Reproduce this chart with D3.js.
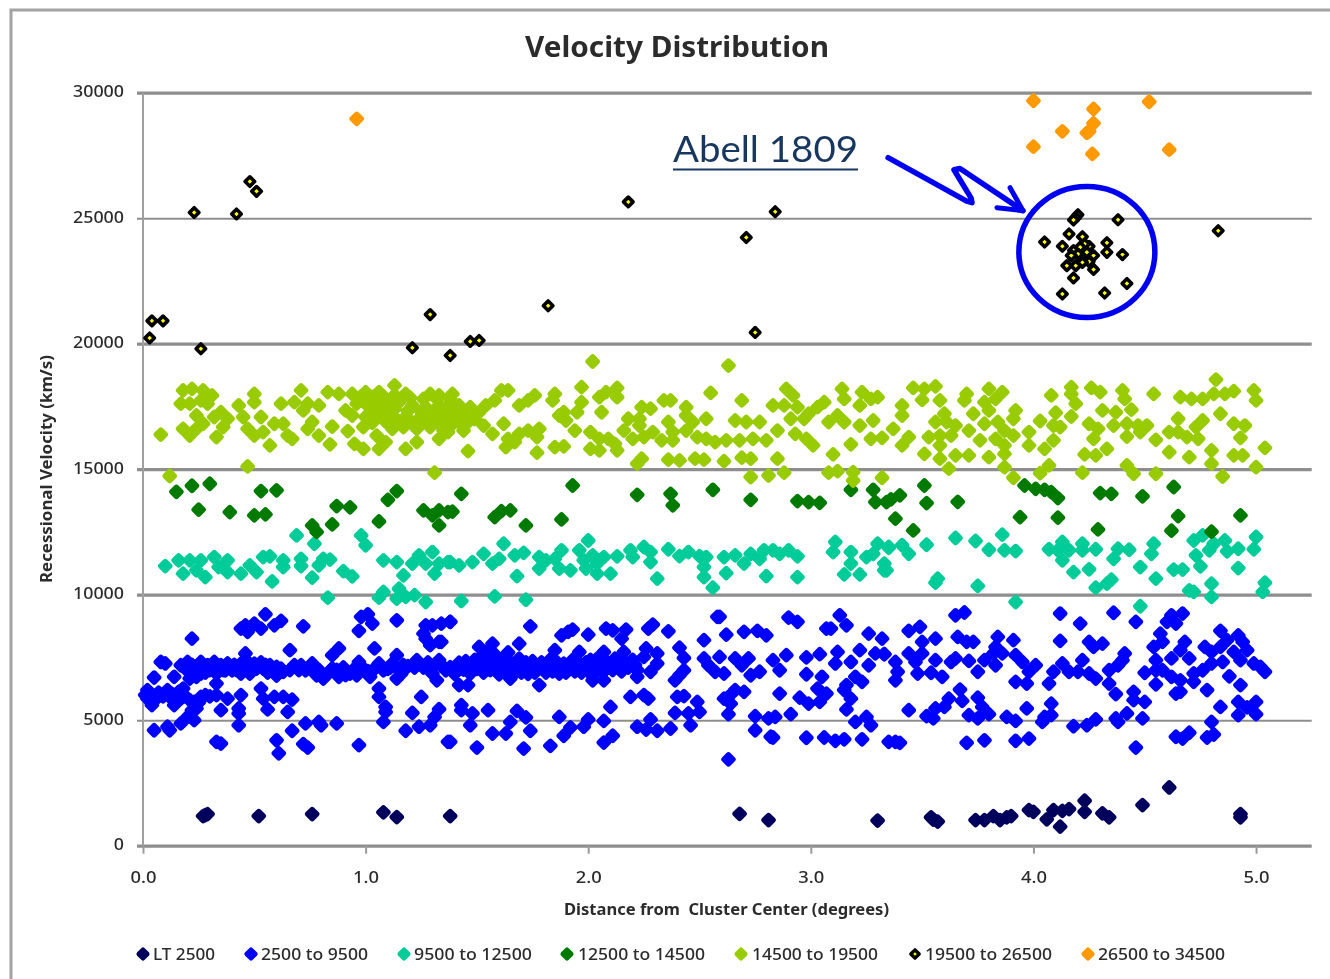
<!DOCTYPE html>
<html>
<head>
<meta charset="utf-8">
<script src="https://cdn.jsdelivr.net/npm/d3@7"></script>
<style>
  html, body { margin: 0; padding: 0; background: #fff; }
  svg { display: block; filter: blur(0.35px); }
  text { font-family: "Noto Sans", "Open Sans", sans-serif; fill: #2b2b2b; white-space: pre; }
</style>
</head>
<body>
<script>
// values: [degrees, km/s]
const lt2500 = [[.27,1180],[.29,1260],[.28,1220],[.52,1180],[.76,1260],[1.08,1330],[1.14,1140],[1.38,1180],[2.68,1270],[2.81,1020],[3.30,1000],
  [3.54,1130],[3.55,1040],[3.57,960],[3.74,1020],[3.78,1020],[3.82,1180],[3.85,1020],[3.88,1130],[3.90,1180],[3.98,1420],[4.00,1350],[4.06,1050],[4.09,1420],
  [4.12,760],[4.13,1390],[4.16,1460],[4.23,1790],[4.23,1350],[4.31,1290],[4.34,1130],[4.49,1620],[4.61,2320],[4.93,1260],[4.93,1130]];

const v2500to9500 = [[.01,6000],[.02,6200],[.02,5860],[.04,5600],[.06,5860],[.11,6200],[.12,5930],[.14,5600],[.16,6130],[.17,5860],[.18,6260],
  [.05,6700],[.08,7320],[.10,7260],[.14,6730],[.17,7190],[.19,7060],[.21,6660],[.24,6730],[.26,7320],[.26,6860],[.29,7190],[.32,7320],[.33,6860],[.35,7190],
  [.38,7260],[.40,6990],[.44,6860],[.46,7660],[.47,7320],[.48,6860],[.51,7060],[.54,7060],[.57,7190],[.60,7120],[.63,6930],[.68,7190],[.71,7190],[.73,6990],
  [.76,7260],[.78,6790],[.81,6660],[.85,7590],[.85,7060],[.88,7860],[.88,6730],[.93,6860],[.97,7320],[.96,6790],[.99,6990],[1.02,6730],[1.06,7260],[1.08,6990],
  [1.12,7260],[1.14,7590],[1.14,6660],[1.17,7190],[1.23,7390],[1.30,6860],[1.32,6590],[1.33,7390],[1.36,6990],
  [.20,7320],[.23,7050],[.27,7000],[.30,7000],[.34,7000],[.37,6990],[.41,7200],[.44,7250],[.50,7250],[.53,7300],[.56,6900],[.60,6780],[.90,7100],[1.10,7050],[1.15,7000],[1.26,7100],[1.31,7200],
  [.22,7200],[.25,7050],[.28,6900],[.31,7150],[.36,7000],[.39,7100],[.42,7000],[.45,7050],[.49,7100],[.52,7200],[.55,7200],[.58,7000],[.62,7050],[.66,7000],[.70,7000],[.75,7050],
  [.79,7000],[.83,6850],[.87,7000],[.91,6800],[.95,7050],[.98,7150],[1.01,6950],[1.04,7050],[1.11,7100],[1.16,6850],[1.19,7150],[1.22,7100],[1.28,7300],[1.34,7200],
  [.03,6050],[.07,6100],[.09,5950],[.13,6050],[.15,5800],[.19,5950],[.21,5800],[.25,5700],[.22,5400],[.28,6000],[.30,5950],
  [.22,8250],[.33,6460],[.33,6000],[.38,5860],[.44,6000],[.26,5930],[.23,5730],[.24,5470],[.20,5130],[.23,5000],[.17,4870],[.05,4600],[.11,4740],[.12,4600],
  [.35,5400],[.43,5470],[.43,5270],[.43,4800],[.33,4140],[.35,4070],[.56,5430],[.53,6260],[.54,5860],[.59,5930],[.63,5930],[.67,5820],[.65,5330],[.67,4580],
  [.60,4200],[.61,3680],[.72,4050],[.74,3910],[.73,4870],[.79,4930],[.80,4800],[.87,4870],[.97,4010],[1.08,4930],[1.09,5330],[1.09,5530],[1.06,6260],[1.06,5930],
  [1.21,5290],[1.25,5930],[1.18,4580],[1.24,4740],[1.29,4800],[1.31,5130],[1.33,5440],[1.37,4140],
  [.55,9220],[.62,8960],[.59,8780],[.53,8650],[.46,8780],[.50,8850],[.47,8520],[.44,8650],[.72,8740],[.66,7790],[.97,8560],[.98,9120],[1.01,9220],[1.03,8850],
  [1.04,7860],[1.14,8980],[1.27,8780],[1.26,8450],[1.30,8780],[1.34,8850],[1.38,8920],[1.29,7990],[1.33,8120],[1.27,8250],
  [1.38,7110],[1.40,6850],[1.42,7290],[1.44,7020],[1.46,7180],[1.47,6860],[1.49,7400],[1.50,7050],[1.52,7530],[1.53,6900],[1.55,7260],[1.56,7000],[1.58,7620],
  [1.59,7150],[1.60,6830],[1.62,7400],[1.63,7030],[1.65,7300],[1.67,6900],[1.69,7450],[1.71,7100],[1.73,6850],[1.75,7350],[1.77,7000],[1.79,7300],[1.81,6900],
  [1.83,7420],[1.85,7100],[1.87,6860],[1.89,7250],[1.91,7000],[1.93,7400],[1.95,7100],[1.97,6900],[1.99,7300],[2.02,7150],[2.04,7450],[2.06,7000],[2.08,7350],
  [2.10,7100],[2.12,7450],[2.14,7050],[2.16,7350],[2.18,7100],[2.20,7400],[2.22,7000],
  [1.41,7100],[1.45,7350],[1.48,7100],[1.51,7250],[1.54,7050],[1.57,7350],[1.60,7400],[1.61,7100],[1.64,6950],[1.66,7150],[1.68,7200],[1.70,6900],[1.72,7300],[1.74,7100],
  [1.76,6900],[1.78,7150],[1.80,7100],[1.82,7200],[1.84,6950],[1.86,7300],[1.88,7050],[1.90,6900],[1.92,7200],[1.94,6950],[1.96,7250],[1.98,7100],[2.00,6950],[2.01,7400],
  [2.03,6900],[2.05,7200],[2.07,6950],[2.09,7200],[2.11,7000],[2.13,7250],[2.15,6950],[2.17,7150],[2.19,7300],[2.21,7200],
  [1.51,7920],[1.57,8050],[1.69,8050],[1.85,7790],[1.96,7720],[2.07,7720],[2.16,7720],[2.26,7860],[1.54,7700],[1.64,7700],[1.42,6400],[1.46,6400],[1.78,6400],[1.65,6660],[2.02,6590],[2.07,6590],[2.22,6730],
  [1.38,8920],[1.34,8120],[1.74,8740],[1.88,8380],[1.91,8520],[1.93,8610],[2.00,8410],[2.08,8650],[2.11,8580],[2.17,8610],[2.15,8250],[2.27,8650],[2.29,8810],[2.36,8540],
  [2.41,7890],[2.43,7480],[2.31,7660],[2.31,7260],[2.28,6930],[2.25,7520],[2.43,6990],[2.41,6790],[2.39,6590],
  [1.43,5600],[1.43,5400],[1.48,5270],[1.55,5400],[1.47,4800],[1.38,4140],[1.50,3910],[1.57,4470],[1.63,4470],[1.65,4930],[1.68,5370],[1.72,5110],[1.74,4580],[1.71,3870],
  [1.83,3980],[1.87,5130],[1.89,4380],[1.92,4710],[1.98,4740],[2.00,5030],[2.07,4970],[2.07,4110],[2.11,4380],[2.10,5530],[2.19,5930],[2.25,6000],[2.27,5860],[2.22,4740],
  [2.28,5030],[2.26,4630],[2.31,4580],[2.37,4670],[2.39,5290],[2.40,5930],[2.43,5960],[2.45,5270],[2.46,4800],[2.49,5730],[2.50,5330],
  [2.52,8190],[2.59,9120],[2.58,9120],[2.62,8410],[2.70,8520],[2.76,8560],[2.80,8380],[2.90,9090],[2.94,8920],
  [2.52,7460],[2.54,7190],[2.57,6930],[2.61,6860],[2.59,7520],[2.66,7460],[2.72,7460],[2.69,7190],[2.73,6790],[2.77,6930],[2.83,7390],[2.86,6990],[2.89,7590],[2.98,7500],
  [3.04,7630],[2.98,6830],[3.05,6730],[3.12,7720],[3.11,7260],[3.18,7320],[3.22,7790],[3.20,6730],[3.16,6400],[3.23,6530],[3.26,7190],[3.29,7660],[3.33,7630],
  [3.13,9180],[3.16,8780],[3.09,8650],[3.07,8650],[3.26,8450],[3.32,8250],[3.15,6200],[3.18,5860],
  [2.66,6200],[2.70,6130],[2.63,5930],[2.61,5860],[2.64,5660],[2.63,5240],[2.86,6060],[2.95,5900],[2.99,5660],[3.03,6260],[3.07,6060],[3.04,5730],[3.16,5430],[3.20,4930],[3.25,5130],[3.27,4800],
  [2.75,5160],[2.75,4600],[2.81,5070],[2.84,5130],[2.91,5240],[2.82,4340],[2.83,4310],[2.98,4300],[3.06,4310],[3.11,4180],[3.15,4240],[3.23,4240],[3.35,4140],[2.63,3440],
  [3.38,4140],[3.40,4100],[3.44,5400],[3.52,5160],[3.55,5070],[3.56,5470],[3.62,5860],[3.60,5530],[3.67,6220],[3.68,5770],[3.71,5200],[3.75,5070],[3.75,5900],[3.77,5530],
  [3.80,5240],[3.88,5130],[3.92,4970],[3.97,5470],[3.92,4180],[3.98,4270],[3.70,4100],[3.78,4200],
  [3.44,8560],[3.49,8720],[3.50,8120],[3.56,8250],[3.65,9180],[3.69,9290],[3.66,8320],[3.70,8120],[3.73,8120],[3.84,8320],[3.91,8190],
  [3.33,7630],[3.38,7320],[3.44,7660],[3.39,6930],[3.38,6590],[3.47,7320],[3.48,6860],[3.54,6890],[3.50,7660],[3.56,7390],[3.59,6730],[3.63,7320],[3.65,7460],[3.71,7360],
  [3.75,6930],[3.78,7390],[3.82,7660],[3.83,7920],[3.83,7190],[3.86,7660],[3.92,7590],[3.95,7320],[3.98,6930],[4.01,7190],[3.92,6530],[3.97,6460],
  [4.07,6460],[4.09,6930],[4.13,7260],[4.16,6930],[4.22,7390],[4.20,6930],[4.25,6860],[4.28,6660],
  [4.12,9250],[4.21,8850],[4.36,9280],[4.12,8160],[4.25,8120],[4.27,7920],[4.31,8050],[4.46,8920],[4.41,7660],[4.40,7390],[4.38,7190],[4.34,6990],[4.34,6460],[4.37,6040],
  [4.08,5660],[4.05,5130],[4.04,4930],[4.08,5200],[4.18,4760],[4.24,4800],[4.28,5030],[4.37,5070],[4.38,4930],[4.42,5270],[4.49,5070],[4.46,3910],[4.45,6130],[4.45,5800],[4.50,5730],
  [4.62,9180],[4.67,9250],[4.60,8920],[4.64,8850],[4.57,8450],[4.58,8120],[4.54,7920],[4.68,8120],[4.66,7790],[4.70,7460],[4.50,6890],[4.55,7390],[4.62,7460],[4.55,6990],
  [4.58,6990],[4.55,6430],[4.62,6730],[4.66,6590],[4.72,6860],[4.72,6530],[4.76,6990],[4.64,6060],[4.66,6130],[4.78,6200],
  [4.84,8560],[4.84,7920],[4.77,7920],[4.80,7720],[4.80,7260],[4.87,8190],[4.92,8380],[4.94,8120],[4.96,7790],[4.90,7720],[4.85,7320],[4.93,7390],[4.99,7260],[5.02,7120],
  [5.04,6930],[4.88,6750],[4.93,6400],[4.84,5530],[4.92,5730],[4.92,5200],[4.96,5510],[5.00,5730],[5.00,5240],[4.80,4930],[4.78,4310],[4.81,4430],[4.64,4340],[4.67,4270],[4.70,4500]];

const v9500to12500 = [[.10,11140],[.16,11370],[.21,11370],[.26,11370],[.18,10840],[.24,10970],[.28,10700],[.32,11500],[.38,11370],[.34,11100],[.38,10900],[.44,10840],
  [.48,11170],[.51,10900],[.54,11500],[.57,11530],[.63,11370],[.63,11100],[.71,11430],[.71,11140],[.76,10680],[.79,11170],[.81,11430],[.84,11400],[.90,10940],[.94,10730],
  [.58,10530],[.69,12360],[.77,12030],[.98,12360],[1.00,11970],[.83,9880],[1.06,9880],[1.08,10110],[1.14,9840],[1.15,10240],[1.18,9910],[1.22,9980],[1.27,9710],
  [1.08,11370],[1.14,11300],[1.17,10770],[1.21,11240],[1.24,11570],[1.30,11700],[1.27,11240],[1.31,10840],[1.33,11240],[1.37,11300],
  [1.38,11300],[1.42,11170],[1.48,11300],[1.53,11630],[1.57,11240],[1.60,11430],[1.62,12030],[1.67,11570],[1.71,11670],[1.68,10740],[1.43,9750],[1.58,9930],[1.72,9800],
  [1.78,11500],[1.78,11040],[1.81,11370],[1.85,11430],[1.88,11770],[1.87,11040],[1.92,10970],[2.00,12160],[1.96,11770],[1.98,11370],[2.02,11570],[2.07,11500],[1.99,11040],
  [2.04,10840],[2.10,10840],[2.04,11240],[2.13,11530],[2.19,11770],[2.20,11500],[2.25,11900],[2.28,11700],[2.28,11300],[2.31,10640],[2.36,11810],[2.41,11540],[2.45,11700],
  [2.50,11540],[2.53,11500],[2.52,11100],[2.52,10700],[2.56,10280],[2.62,10860],[2.61,11500],[2.66,11570],[2.70,11240],[2.73,11630],[2.77,11430],[2.79,11770],[2.83,11770],
  [2.86,11630],[2.90,11770],[2.94,11530],[2.80,10740],[2.94,10700],[3.11,12100],[3.10,11700],[3.18,11700],[3.18,11240],[3.15,10810],[3.22,10810],[3.25,11500],[3.30,12030],
  [3.28,11630],[3.33,11240],[3.35,11900],[3.34,10970],[3.33,10970],[3.35,11870],[3.41,11970],[3.44,11630],[3.52,11990],[3.65,12260],[3.74,12140],[3.86,12390],[3.80,11790],
  [3.87,11770],[3.92,11740],[3.57,10640],[3.56,10480],[3.75,10350],[3.92,9710],[4.07,11810],[4.13,12100],[4.11,11770],[4.16,11770],[4.13,11370],[4.22,12030],[4.22,11770],
  [4.28,11810],[4.18,10900],[4.25,11010],[4.35,10600],[4.33,10440],[4.28,10280],[4.38,11830],[4.36,11430],[4.43,11790],[4.54,12030],[4.53,11630],[4.48,11100],[4.55,10640],
  [4.63,11000],[4.67,11000],[4.73,11570],[4.75,11130],[4.72,12160],[4.76,12360],[4.79,11770],[4.81,12030],[4.86,12160],[4.87,11730],[4.92,11830],[4.92,11060],[5.00,12300],
  [4.99,11810],[4.80,10440],[4.70,10170],[4.72,10110],[4.80,9910],[5.04,10480],[5.03,10110],[4.48,9540]];

const v12500to14500 = [[.15,14100],[.22,14340],[.30,14420],[.25,13390],[.39,13290],[.50,13160],[.55,13200],[.53,14130],[.60,14160],[.76,12760],[.78,12500],[.85,12800],
  [.87,13530],[.93,13480],[1.06,12920],[1.10,13780],[1.14,14130],[1.26,13360],[1.30,13160],[1.33,12760],[1.33,13360],[1.37,13290],[1.39,13310],[1.43,14020],[1.58,13090],
  [1.61,13330],[1.65,13360],[1.72,12760],[1.88,13000],[1.93,14350],[2.22,13980],[2.37,14020],[2.38,13560],[2.56,14180],[2.73,13780],[2.94,13730],[2.99,13690],[3.04,13660],
  [3.18,14180],[3.28,14180],[3.29,13690],[3.34,13690],[3.36,13800],[3.40,13960],[3.51,14350],[3.52,13650],[3.66,13700],[3.38,13030],[3.46,12560],[3.94,13090],[4.11,13070],
  [3.96,14350],[4.01,14220],[4.05,14180],[4.08,14090],[4.11,13850],[4.30,14050],[4.35,14020],[4.49,13920],[4.63,14290],[4.29,12600],[4.62,12550],[4.65,13130],[4.93,13160],[4.80,12510]];

const v14500to19500 = [[.08,16380],[.12,14730],[.47,15110],[1.31,14860],[.18,18140],[.22,18200],[.27,18140],[.17,17610],[.21,17610],[.26,17740],[.31,17940],[.29,17610],[.35,17270],
  [.38,17010],[.36,16680],[.32,17080],[.27,16810],[.24,17140],[.18,16610],[.21,16340],[.24,16610],[.33,16280],[.43,17540],[.50,18000],[.50,17670],[.45,17080],[.47,16610],
  [.50,16340],[.53,17080],[.54,16480],[.59,16810],[.63,16810],[.65,16340],[.67,16210],[.57,15950],[.62,17610],[.68,17670],[.71,18140],[.72,17340],[.74,17610],[.79,17540],
  [.76,16880],[.74,16610],[.79,16340],[.85,16700],[.84,15990],[.92,16520],[.95,16010],[.99,15810],[.83,18070],[.88,18000],[.94,18000],[1.00,18070],[1.06,18070],[1.13,18340],
  [1.18,18000],[1.29,18000],[1.33,17940],[.91,17340],[.96,17610],[1.00,17610],[1.05,17540],[1.10,17610],[1.15,17670],[1.21,17540],[1.27,17470],[1.33,17540],[.94,17140],
  [1.00,17080],[1.06,17210],[1.12,17140],[1.18,17080],[1.24,17010],[1.30,17080],[1.36,17140],[.99,16680],[1.05,16340],[1.12,16610],[1.17,16680],[1.23,16610],[1.29,16680],
  [1.35,16540],[1.06,15810],[1.09,16080],[1.18,15810],[1.23,16080],[1.33,16210],
  [.98,17900],[1.03,17880],[1.08,17900],[1.13,17950],[1.20,17850],[1.26,17800],[1.32,17800],[1.38,17800],[1.03,17350],[1.08,17300],[1.13,17400],[1.19,17320],[1.25,17300],
  [1.31,17320],[1.37,17300],[1.03,16850],[1.09,16900],[1.15,16900],[1.21,16850],[1.27,16880],[1.33,16850],[1.39,16800],[1.44,17200],[1.49,17000],[1.40,17250],[1.43,16800],
  [2.02,19290],[2.63,19130],[1.39,18000],[1.37,17540],[1.42,17540],[1.47,17470],[1.51,17270],[1.35,17010],[1.41,16940],[1.46,16880],[1.37,16480],[1.44,16540],[1.54,17540],
  [1.58,17740],[1.61,18140],[1.64,18140],[1.53,16740],[1.57,16410],[1.69,17540],[1.73,17740],[1.76,17940],[1.62,16810],[1.69,16410],[1.64,16210],[1.63,15880],[1.67,16080],
  [1.73,16540],[1.78,16610],[1.77,16280],[1.46,15720],[1.77,15660],[1.85,18000],[1.84,17740],[1.89,17270],[1.87,17140],[1.90,16940],[1.97,17670],[1.95,17270],[1.94,16540],
  [1.97,18270],[1.85,15880],[1.89,15910],[2.08,18070],[2.13,18240],[2.05,17870],[2.13,17870],[2.06,17270],[2.01,16480],[2.05,16210],[2.09,16210],[2.12,16010],[2.13,15750],
  [2.01,15810],[2.05,15750],[2.24,17470],[2.28,17410],[2.18,17010],[2.23,17010],[2.16,16540],[2.23,16740],[2.20,16210],[2.25,16280],[2.29,16480],[2.33,16150],[2.34,17740],
  [2.37,17740],[2.36,16880],[2.38,16480],[2.38,16150],[2.44,17470],[2.44,17140],[2.47,16880],[2.44,16540],[2.49,16280],[2.53,16210],[2.57,16080],[2.62,16150],[2.53,17010],
  [2.55,18040],[2.69,17740],[2.66,16940],[2.71,16880],[2.77,16880],[2.68,16150],[2.74,16210],[2.80,16150],[2.85,16540],[2.83,17540],[2.89,18200],[2.92,17940],[2.88,17540],
  [2.94,17470],[2.91,17010],[2.97,17010],[2.93,16410],[2.98,16210],[3.01,15950],[3.03,17470],[3.06,17670],[2.99,17210],[3.14,18200],[3.15,17800],[3.23,18070],[3.30,17870],
  [3.27,17800],[3.22,17540],[3.08,16880],[3.12,17140],[3.15,16880],[3.22,16740],[3.28,16940],[3.27,16210],[3.32,16250],[3.18,15990],[3.10,15590],[2.24,15420],[2.22,15220],
  [2.36,15380],[2.41,15350],[2.48,15420],[2.52,15380],[2.61,15320],[2.69,15460],[2.73,15420],[2.85,15420],[2.73,14690],[2.81,14750],[2.88,14860],[3.08,14860],[3.12,14920],
  [3.19,14880],[3.19,14550],[3.32,14660],
  [3.46,18240],[3.51,18200],[3.56,18300],[3.50,17760],[3.41,17540],[3.41,17140],[3.58,17740],[3.37,16610],[3.44,16280],[3.41,15950],[3.70,18000],[3.69,17740],[3.80,18200],
  [3.86,18070],[3.83,17800],[3.78,17670],[3.80,17340],[3.73,17210],[3.60,17210],[3.56,16880],[3.61,16880],[3.65,16740],[3.53,16280],[3.58,16340],[3.63,16340],[3.71,16540],
  [3.58,15950],[3.51,15610],[3.65,15550],[3.58,15420],[3.62,15020],[3.78,16810],[3.84,16880],[3.92,17340],[3.91,17010],[3.87,16540],[3.83,16210],[3.91,16340],[3.98,16480],
  [3.87,15950],[3.98,15950],[3.76,16150],[3.71,15550],[3.80,15480],[3.87,15610],[3.87,15080],[3.91,14660],[4.08,17940],[4.17,18270],[4.17,18000],[4.19,17610],[4.10,17250],
  [4.17,17100],[4.03,16920],[4.09,16740],[4.12,16680],[4.09,16150],[4.05,15810],[4.07,15150],[4.03,14840],[4.22,14860],[4.26,18240],[4.30,18070],[4.40,18140],[4.41,17800],
  [4.31,17340],[4.44,17370],[4.54,18000],[4.25,16810],[4.29,16610],[4.27,16210],[4.37,17270],[4.36,16740],[4.42,16810],[4.42,16300],[4.47,16740],[4.51,16740],[4.48,16480],
  [4.55,16170],[4.23,15590],[4.28,15550],[4.33,15810],[4.42,15150],[4.45,14820],[4.55,14820],[4.66,17870],[4.71,17800],[4.76,17800],[4.81,18000],[4.86,18000],[4.90,18110],
  [4.82,18570],[4.99,18140],[5.00,17740],[4.84,17210],[4.65,17010],[4.76,16940],[4.73,16680],[4.61,16480],[4.65,16480],[4.69,16280],[4.74,16210],[4.90,16810],[4.95,16740],
  [4.93,16250],[4.61,15680],[4.70,15480],[4.80,15750],[4.80,15220],[4.90,15550],[4.94,15550],[5.04,15850],[5.00,15080],[4.85,14710]];

const v19500to26500 = [[.23,25230],[.42,25170],[.48,26460],[.51,26070],[.04,20910],[.09,20910],[.03,20230],[.26,19800],[1.21,19840],[1.29,21160],[1.38,19530],[1.47,20090],[1.51,20130],
  [1.82,21510],[2.18,25650],[2.71,24230],[2.75,20450],[2.84,25260],[4.83,24500],[4.38,24940],[4.20,25140],[4.19,25030],[4.18,24930],[4.16,24370],[4.05,24050],[4.13,23880],
  [4.22,24260],[4.25,23880],[4.23,23970],[4.33,24020],[4.33,23640],[4.40,23550],[4.27,23510],[4.18,23710],[4.22,23470],[4.25,23270],[4.15,23110],[4.19,23110],[4.27,22960],
  [4.18,22620],[4.42,22400],[4.13,21980],[4.32,22020],[4.21,23840],[4.20,23570],[4.17,23510],[4.22,23240],[4.24,23640]];

const v26500to34500 = [[4.00,29680],[4.52,29640],[4.27,29350],[4.27,28780],[4.13,28460],[4.25,28460],[4.24,28400],[4.00,27850],[4.265,27560],[4.61,27730],[.96,28960]];

const seriesNames = ["LT 2500", "2500 to 9500", "9500 to 12500", "12500 to 14500", "14500 to 19500", "19500 to 26500", "26500 to 34500"];
const seriesValues = [lt2500, v2500to9500, v9500to12500, v12500to14500, v14500to19500, v19500to26500, v26500to34500];
const seriesColors = ["#00005c", "#0000ff", "#00cc99", "#007a00", "#99cc00", "#ffff00", "#ff9900"];
const legendMarkX = [143, 251, 404, 567, 741, 915, 1088];
const legendTextX = [153, 261, 414, 578, 752, 925, 1098];
const legendTextW = [62, 107, 118, 127, 126, 127, 127];

const xTicks = [0, 1, 2, 3, 4, 5];
const yTicks = [0, 5000, 10000, 15000, 20000, 25000, 30000];
const thinGrid = [5000, 25000];

// the hand drawn callout, in chart units
const calloutCenter = [4.24, 23657];
const calloutZigzag = [[3.347, 27410], [3.70, 25680], [3.724, 25620], [3.72, 25800], [3.643, 26930], [3.67, 26980], [3.953, 25300]];
const calloutHead = [[3.895, 26216], [3.953, 25300], [3.836, 25420]];

const svgWidth = 1330;
const svgHeight = 979;

const svg = d3.select("body").append("svg")
  .attr("width", svgWidth)
  .attr("height", svgHeight);

// outer frame of the pasted chart
svg.append("path")
  .attr("d", `M11,${svgHeight}V10H${svgWidth}`)
  .attr("fill", "none")
  .attr("stroke", "#a3a3a3")
  .attr("stroke-width", 3);

const xScale = d3.scaleLinear().domain([0, 5.25]).range([143, 1311.7]);
const yScale = d3.scaleLinear().domain([0, 30000]).range([845.7, 92.7]);

// y axis + gridlines
const yAxis = svg.append("g")
  .attr("transform", `translate(${xScale(0)},0)`)
  .call(d3.axisLeft(yScale).tickValues(yTicks).tickFormat(d3.format("d")));
yAxis.select(".domain").remove();
yAxis.selectAll("line")
  .attr("x1", -6)
  .attr("x2", 1311.7 - 143)
  .attr("stroke", "#8e8e8e")
  .attr("stroke-width", d => thinGrid.includes(d) ? 2 : 3.2);
yAxis.selectAll("text")
  .attr("x", -19)
  .attr("y", -1)
  .attr("dy", "0.3em")
  .attr("textLength", d => String(d).length * 10.2)
  .attr("lengthAdjust", "spacingAndGlyphs")
  .style("font-size", "16px")
  .style("font-weight", 500);

// x axis
const xAxis = svg.append("g")
  .attr("transform", `translate(0,${yScale(0)})`)
  .call(d3.axisBottom(xScale).tickValues(xTicks).tickFormat(d3.format(".1f")).tickSize(8));
xAxis.select(".domain").remove();
xAxis.selectAll("line")
  .attr("stroke", "#9a9a9a")
  .attr("stroke-width", 2);
xAxis.selectAll("text")
  .attr("y", 32)
  .attr("dy", "0.35em")
  .attr("textLength", 26)
  .attr("lengthAdjust", "spacingAndGlyphs")
  .style("font-size", "16px")
  .style("font-weight", 500);

svg.append("line")
  .attr("x1", xScale(0)).attr("x2", xScale(0))
  .attr("y1", yScale(30000)).attr("y2", yScale(0))
  .attr("stroke", "#a0a0a0")
  .attr("stroke-width", 2);

// titles
svg.append("text")
  .attr("x", 677).attr("y", 57)
  .attr("text-anchor", "middle")
  .attr("textLength", 304)
  .attr("lengthAdjust", "spacingAndGlyphs")
  .style("font-size", "28px")
  .style("font-weight", 700)
  .text("Velocity Distribution");

svg.append("text")
  .attr("x", 726.5).attr("y", 915)
  .attr("text-anchor", "middle")
  .attr("textLength", 325)
  .attr("lengthAdjust", "spacingAndGlyphs")
  .style("font-size", "15.5px")
  .style("font-weight", 700)
  .text("Distance from  Cluster Center (degrees)");

svg.append("text")
  .attr("transform", "translate(52,469) rotate(-90)")
  .attr("text-anchor", "middle")
  .attr("textLength", 228)
  .attr("lengthAdjust", "spacingAndGlyphs")
  .style("font-size", "15.5px")
  .style("font-weight", 700)
  .text("Recessional Velocity (km/s)");

// points: a small diamond with a fat round stroke gives the blobby look of the original
const diamond = d3.symbol().type(d3.symbolDiamond2);
seriesValues.forEach((values, i) => {
  const isOutlined = i === 5;
  svg.append("g")
    .selectAll("path")
    .data(values)
    .enter()
    .append("path")
    .attr("transform", d => `translate(${xScale(d[0])},${yScale(d[1])})`)
    .attr("d", diamond.size(isOutlined ? 58 : 50)())
    .attr("fill", seriesColors[i])
    .attr("stroke", isOutlined ? "#000" : seriesColors[i])
    .attr("stroke-width", isOutlined ? 3.6 : 5.6)
    .attr("stroke-linejoin", "round");
});

// legend
const legend = svg.append("g");
seriesNames.forEach((name, i) => {
  const isOutlined = i === 5;
  legend.append("path")
    .attr("transform", `translate(${legendMarkX[i]},954)`)
    .attr("d", diamond.size(isOutlined ? 44 : 44)())
    .attr("fill", seriesColors[i])
    .attr("stroke", isOutlined ? "#000" : seriesColors[i])
    .attr("stroke-width", isOutlined ? 3.4 : 4.8)
    .attr("stroke-linejoin", "round");
  legend.append("text")
    .attr("x", legendTextX[i])
    .attr("y", 959.5)
    .attr("textLength", legendTextW[i])
    .attr("lengthAdjust", "spacingAndGlyphs")
    .style("font-size", "15.5px")
    .style("font-weight", 500)
    .text(name);
});

// callout
const callout = svg.append("g")
  .attr("fill", "none")
  .attr("stroke", "#0000f0")
  .attr("stroke-linecap", "round")
  .attr("stroke-linejoin", "round");
callout.append("ellipse")
  .attr("cx", xScale(calloutCenter[0]))
  .attr("cy", yScale(calloutCenter[1]))
  .attr("rx", 68)
  .attr("ry", 65.5)
  .attr("stroke-width", 5.5);
const calloutLine = d3.line().x(d => xScale(d[0])).y(d => yScale(d[1]));
callout.append("path").attr("d", calloutLine(calloutZigzag)).attr("stroke-width", 5.5);
callout.append("path").attr("d", calloutLine(calloutHead)).attr("stroke-width", 5);

svg.append("text")
  .attr("x", 673).attr("y", 162)
  .attr("textLength", 185)
  .attr("lengthAdjust", "spacingAndGlyphs")
  .style("font-family", "Lato, 'Open Sans', sans-serif")
  .style("font-size", "37px")
  .style("fill", "#17375e")
  .text("Abell 1809");
svg.append("line")
  .attr("x1", 673).attr("x2", 858)
  .attr("y1", 169.5).attr("y2", 169.5)
  .attr("stroke", "#17375e")
  .attr("stroke-width", 2);
</script>
</body>
</html>
